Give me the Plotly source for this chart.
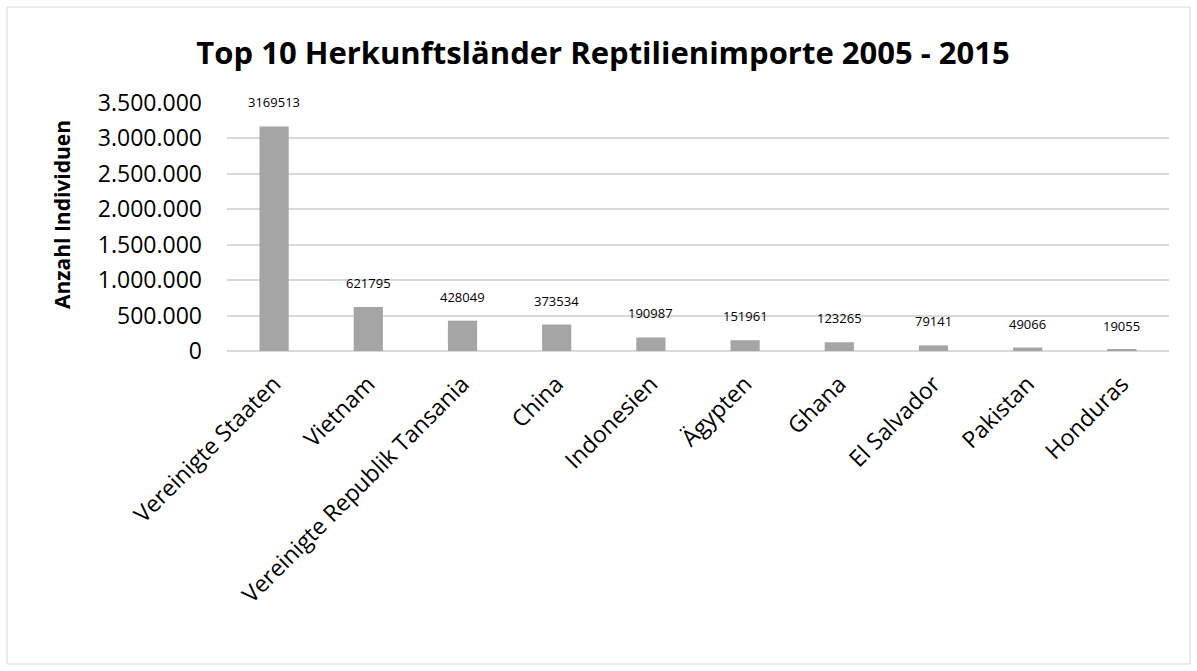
import plotly.graph_objects as go

laender = ["Vereinigte Staaten", "Vietnam", "Vereinigte Republik Tansania", "China",
           "Indonesien", "Ägypten", "Ghana", "El Salvador", "Pakistan", "Honduras"]
individuen = [3169513, 621795, 428049, 373534, 190987, 151961, 123265, 79141, 49066, 19055]
y_ticks = [0, 500000, 1000000, 1500000, 2000000, 2500000, 3000000, 3500000]
y_ticklabels = ["0", "500.000", "1.000.000", "1.500.000", "2.000.000", "2.500.000",
                "3.000.000", "3.500.000"]

FONT = "Open Sans"
W, H = 1197, 671
L, R, T, B = 227, 28, 103, 320
pw, ph = W - L - R, H - T - B

fig = go.Figure()
fig.add_trace(go.Bar(
    x=laender, y=individuen, marker_color="#a5a5a5", marker_line_width=0,
    hoverinfo="x+y",
))

for c, v in zip(laender, individuen):
    fig.add_annotation(x=c, y=v, text=str(v), showarrow=False, yanchor="bottom",
                       yshift=13, font=dict(family=FONT, size=13, color="#000000"))

def px(xp):
    return (xp - L) / pw

def py(yp):
    return (H - B - yp) / ph

fig.add_shape(type="rect", xref="paper", yref="paper",
              x0=px(7), x1=px(1190), y0=py(664), y1=py(7),
              line=dict(color="#d9d9d9", width=1), fillcolor="rgba(0,0,0,0)", layer="below")

fig.add_annotation(text="<b>Anzahl Individuen</b>", xref="paper", yref="paper",
                   x=px(62), y=py(215), textangle=-90, showarrow=False,
                   xanchor="center", yanchor="middle",
                   font=dict(family=FONT, size=21, color="#000000"))

fig.update_layout(
    width=W, height=H,
    margin=dict(l=L, r=R, t=T, b=B),
    paper_bgcolor="white", plot_bgcolor="white",
    bargap=0.69,
    showlegend=False,
    title=dict(text="<b>Top 10 Herkunftsländer Reptilienimporte 2005 - 2015</b>",
               x=(193 + 1013) / 2 / W, xanchor="center", y=1 - 53 / H, yanchor="middle",
               font=dict(family=FONT, size=31, color="#000000")),
    xaxis=dict(tickangle=-45, tickfont=dict(family=FONT, size=23, color="#000000"),
               showgrid=False, showline=False, ticks="", ticklabelstandoff=14),
    yaxis=dict(range=[0, 3500000], tickvals=y_ticks, ticktext=y_ticklabels,
               tickfont=dict(family=FONT, size=23, color="#000000"),
               showgrid=True, gridcolor="#d9d9d9", gridwidth=1.5,
               zeroline=True, zerolinecolor="#d9d9d9", zerolinewidth=1.5,
               ticks="", ticklabelstandoff=24),
)

fig.write_html("out.html", config={"displayModeBar": False},
               post_script="document.body.style.margin='0';document.body.style.overflow='hidden';")
